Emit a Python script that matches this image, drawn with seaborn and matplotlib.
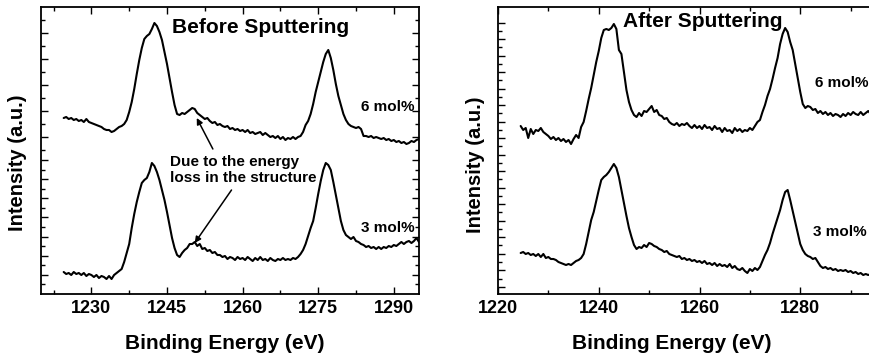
import numpy as np
import pandas as pd
import matplotlib
matplotlib.use("Agg")
import matplotlib.pyplot as plt
from matplotlib.ticker import FixedLocator, MultipleLocator
import seaborn as sns

# XPS spectra (Gd 3d region), intensities in arbitrary units, 0.5 eV steps from 1224.5 eV
start_ev = 1224.5
step_ev = 0.5

before_6mol = [
    17.6, 17.7, 17.5, 17.6, 17.4, 17.5, 17.3, 17.4, 17.2, 17.5,
    17.2, 17.1, 17.0, 16.9, 16.8, 16.7, 16.5, 16.4, 16.4, 16.2,
    16.3, 16.5, 16.7, 16.8, 17.0, 17.4, 18.2, 19.2, 20.5, 22.0,
    23.4, 24.6, 25.5, 25.8, 26.0, 26.5, 27.1, 26.8, 26.2, 25.4,
    24.2, 23.0, 21.6, 20.2, 18.9, 18.0, 17.9, 18.1, 18.0, 18.2,
    18.4, 18.6, 18.5, 18.1, 17.9, 17.7, 17.5, 17.6, 17.3, 17.1,
    17.2, 16.9, 17.0, 16.8, 16.7, 16.8, 16.5, 16.6, 16.4, 16.5,
    16.3, 16.4, 16.2, 16.4, 16.1, 16.2, 16.0, 16.1, 16.2, 15.9,
    16.1, 15.9, 15.7, 15.8, 15.6, 15.8, 15.5, 15.7, 15.4, 15.6,
    15.5, 15.7, 15.5, 15.7, 15.8, 16.2, 16.9, 17.3, 18.0, 19.0,
    20.2, 21.2, 22.2, 23.2, 24.0, 24.4, 23.6, 22.4, 21.0, 19.8,
    18.9, 18.0, 17.4, 17.0, 16.8, 16.7, 16.6, 16.7, 16.5, 15.8,
    15.8, 15.7, 15.8, 15.6, 15.7, 15.6, 15.5, 15.6, 15.4, 15.5,
    15.3, 15.4, 15.2, 15.3, 15.1, 15.2, 15.0, 15.1, 15.3, 15.2,
    15.4, 15.5,
]

before_3mol = [
    2.2, 2.0, 2.1, 1.9, 2.2, 2.0, 2.1, 1.9, 2.1, 1.8,
    2.0, 1.9, 1.7, 1.9, 1.6, 1.8, 1.7, 1.5, 1.8, 1.5,
    1.9, 2.1, 2.3, 2.5, 3.2, 4.1, 5.0, 6.6, 8.0, 9.2,
    10.2, 11.1, 11.4, 11.6, 12.2, 13.1, 12.8, 12.2, 11.4, 10.4,
    9.4, 8.2, 6.9, 5.6, 4.6, 3.9, 3.7, 4.1, 4.4, 4.6,
    5.0, 5.0, 5.2, 4.8, 5.0, 4.5, 4.6, 4.3, 4.4, 4.1,
    4.2, 3.9, 3.9, 3.7, 3.8, 3.5, 3.7, 3.6, 3.4, 3.7,
    3.5, 3.6, 3.4, 3.7, 3.5, 3.3, 3.6, 3.4, 3.7, 3.4,
    3.5, 3.3, 3.6, 3.4, 3.3, 3.5, 3.4, 3.6, 3.4, 3.5,
    3.4, 3.6, 3.5, 3.7, 4.0, 4.4, 5.0, 5.8, 6.6, 7.3,
    8.6, 10.0, 11.3, 12.4, 13.1, 12.9, 12.4, 11.2, 9.9, 8.6,
    7.3, 6.4, 5.9, 5.7, 5.5, 5.7, 5.3, 5.2, 5.0, 4.9,
    4.7, 4.8, 4.6, 4.7, 4.5, 4.7, 4.5, 4.7, 4.6, 4.8,
    4.7, 4.9, 4.8, 5.0, 5.2, 5.0, 5.2, 5.3, 5.1, 5.3,
    5.6, 5.2,
]

after_6mol = [
    16.8, 16.4, 16.6, 15.6, 16.5, 16.0, 16.4, 16.3, 16.6, 16.2,
    16.0, 15.8, 15.5, 15.7, 15.4, 15.6, 15.3, 15.5, 15.2, 15.4,
    15.0, 15.5, 15.9, 15.6, 16.7, 17.2, 18.3, 19.5, 20.6, 21.9,
    23.2, 24.3, 25.6, 26.4, 26.5, 26.4, 26.6, 27.0, 26.5, 24.4,
    24.0, 22.2, 20.4, 19.2, 18.4, 17.9, 17.7, 18.1, 17.8, 18.3,
    18.2, 18.5, 18.8, 18.2, 18.4, 17.9, 17.8, 17.5, 17.6, 17.2,
    17.0, 16.9, 17.1, 16.8, 17.0, 16.9, 17.1, 16.8, 16.6, 16.9,
    16.6, 16.8, 16.5, 16.9, 16.6, 16.7, 16.4, 16.8, 16.5, 16.6,
    16.2, 16.6, 16.3, 16.4, 16.1, 16.6, 16.3, 16.5, 16.2, 16.4,
    16.3, 16.6, 16.4, 16.8, 17.2, 17.4, 18.2, 18.9, 19.8, 20.5,
    21.5, 22.6, 23.6, 25.0, 26.0, 26.6, 26.2, 25.2, 24.4, 23.0,
    21.6, 20.2, 19.0, 18.6, 18.8, 18.7, 18.4, 18.5, 18.1, 18.3,
    18.0, 18.2, 17.9, 18.1, 17.8, 18.0, 17.9, 17.7, 18.0, 17.8,
    18.1, 17.9, 18.2, 18.0, 17.9, 18.2, 17.9, 18.1, 18.3, 18.0,
    18.2, 18.1,
]

after_3mol = [
    4.1, 4.2, 4.0, 4.1, 3.9, 4.0, 3.8, 4.0, 3.7, 4.0,
    3.6, 3.7, 3.5, 3.5, 3.4, 3.2, 3.1, 3.0, 2.9, 3.0,
    2.9, 3.1, 3.3, 3.4, 3.6, 4.0, 5.0, 6.2, 7.4, 8.2,
    9.3, 10.4, 11.4, 11.7, 11.9, 12.2, 12.6, 13.0, 12.6, 11.7,
    10.4, 9.1, 7.8, 6.6, 5.7, 4.9, 4.5, 4.7, 4.6, 4.9,
    4.7, 5.1, 5.0, 4.8, 4.7, 4.5, 4.4, 4.2, 4.3, 4.0,
    3.9, 3.8, 3.7, 3.8, 3.5, 3.6, 3.4, 3.5, 3.3, 3.4,
    3.2, 3.3, 3.1, 3.3, 3.0, 3.1, 2.9, 3.1, 2.8, 3.0,
    2.8, 2.9, 2.7, 3.0, 2.6, 2.8, 2.5, 2.4, 2.6, 2.3,
    2.1, 2.5, 2.3, 2.6, 2.4, 2.7, 3.3, 3.9, 4.4, 5.1,
    6.0, 6.8, 7.6, 8.4, 9.4, 10.2, 10.4, 9.4, 8.3, 7.2,
    6.1, 5.0, 4.4, 4.0, 3.8, 3.7, 3.5, 3.6, 3.2, 2.8,
    2.6, 2.7, 2.5, 2.6, 2.4, 2.5, 2.3, 2.4, 2.3, 2.4,
    2.2, 2.3, 2.1, 2.2, 2.0, 2.1, 1.9, 2.0, 1.9, 2.0,
    1.8, 1.9,
]

panel_titles = ["Before Sputtering", "After Sputtering"]
series_labels = ["6 mol%", "3 mol%"]
xticks_before = [1230, 1245, 1260, 1275, 1290]
xticks_after = [1220, 1240, 1260, 1280]


def to_frame(values):
    energy = start_ev + step_ev * np.arange(len(values))
    return pd.DataFrame({"energy": energy, "intensity": values})


sns.set_theme(style="ticks")
plt.rcParams["font.family"] = ["Liberation Sans", "DejaVu Sans"]
plt.rcParams["font.weight"] = "bold"
plt.rcParams["axes.labelweight"] = "bold"
plt.rcParams["text.color"] = "black"
plt.rcParams["axes.labelcolor"] = "black"
plt.rcParams["xtick.color"] = "black"
plt.rcParams["ytick.color"] = "black"

fig = plt.figure(figsize=(8.7, 3.59), dpi=100)
ax1 = fig.add_axes([41 / 870, 65 / 359, 378 / 870, 287 / 359])
ax2 = fig.add_axes([498 / 870, 65 / 359, 403 / 870, 287 / 359])

for ax, curves in [(ax1, [before_6mol, before_3mol]), (ax2, [after_6mol, after_3mol])]:
    for vals in curves:
        sns.lineplot(data=to_frame(vals), x="energy", y="intensity", ax=ax,
                     color="black", lw=1.5, estimator=None, sort=False)
    ax.set_ylim(0, 28.7)
    for s in ax.spines.values():
        s.set_linewidth(1.3)
        s.set_color("black")
    ax.tick_params(which="both", direction="in", top=True, right=True,
                   labelleft=False, width=1.0, color="black", labelcolor="black")
    ax.tick_params(which="major", length=5)
    ax.tick_params(which="minor", length=3)
    ax.tick_params(axis="x", pad=4)

# left panel: composite y scale (two different tick spacings)
ytk_left = list(np.round(np.linspace(27.4, 14.4, 11), 2)) + list(np.round(np.linspace(13.4, 0.97, 14), 2))
ax1.yaxis.set_major_locator(FixedLocator(ytk_left[1::2]))
ax1.yaxis.set_minor_locator(FixedLocator(ytk_left[0::2]))
ax1.set_xticks(xticks_before, [str(t) for t in xticks_before], fontsize=13, fontweight="bold")
ax1.xaxis.set_minor_locator(MultipleLocator(7.5))
ax1.set_xlim(1220, 1295)

ytk_right = list(np.round(27.13 - 0.825 * np.arange(33), 2))
ax2.yaxis.set_major_locator(FixedLocator(ytk_right[0::2]))
ax2.yaxis.set_minor_locator(FixedLocator(ytk_right[1::2]))
ax2.set_xticks(xticks_after, [str(t) for t in xticks_after], fontsize=13, fontweight="bold")
ax2.xaxis.set_minor_locator(MultipleLocator(10))
ax2.set_xlim(1220, 1300)

for ax in (ax1, ax2):
    ax.set_xlabel("Binding Energy (eV)", fontsize=15, fontweight="bold")
    ax.set_ylabel("Intensity (a.u.)", fontsize=14.5, fontweight="bold")
ax1.xaxis.set_label_coords(0.487, -0.14)
ax2.xaxis.set_label_coords(0.43, -0.14)
ax1.yaxis.set_label_coords(-0.037, 0.456)
ax2.yaxis.set_label_coords(-0.032, 0.449)

ax1.text(0.582, 0.93, panel_titles[0], transform=ax1.transAxes, fontsize=15,
         fontweight="bold", ha="center", va="center")
ax2.text(0.509, 0.948, panel_titles[1], transform=ax2.transAxes, fontsize=15,
         fontweight="bold", ha="center", va="center")

ax1.text(0.989, 0.652, series_labels[0], transform=ax1.transAxes, fontsize=11,
         fontweight="bold", ha="right", va="center")
ax1.text(0.989, 0.230, series_labels[1], transform=ax1.transAxes, fontsize=11,
         fontweight="bold", ha="right", va="center")
ax2.text(0.787, 0.735, series_labels[0], transform=ax2.transAxes, fontsize=11,
         fontweight="bold", ha="left", va="center")
ax2.text(0.782, 0.216, series_labels[1], transform=ax2.transAxes, fontsize=11,
         fontweight="bold", ha="left", va="center")

# energy-loss annotation with two arrows
ax1.text(0.341, 0.432, "Due to the energy\nloss in the structure", transform=ax1.transAxes,
         fontsize=11, fontweight="bold", ha="left", va="center", linespacing=1.1)
arrow = dict(arrowstyle="-|>", color="black", lw=1.1, mutation_scale=9, shrinkA=0, shrinkB=0)
ax1.annotate("", xy=(1250.9, 17.6), xytext=(1254.1, 14.5), arrowprops=arrow)
ax1.annotate("", xy=(1250.5, 5.1), xytext=(1257.8, 10.4), arrowprops=arrow)

fig.savefig("out.png", dpi=100)
